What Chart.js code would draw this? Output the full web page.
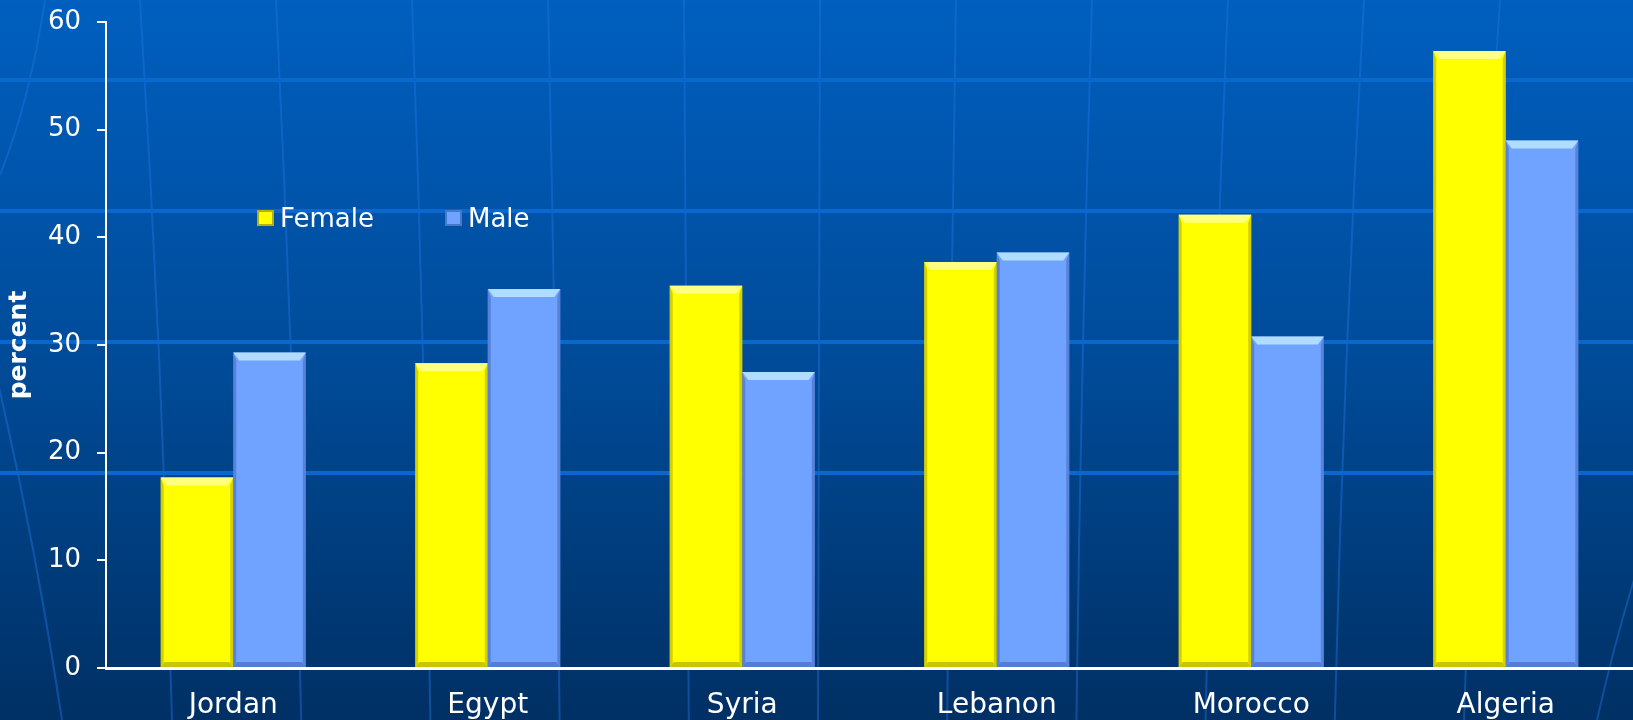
<!DOCTYPE html>
<html>
<head>
<meta charset="utf-8">
<script src="https://cdn.jsdelivr.net/npm/chart.js@4/dist/chart.umd.min.js"></script>
<style>
  html, body { margin: 0; padding: 0; background: #00408a; overflow: hidden; }
  #wrap { position: relative; width: 1633px; height: 720px; }
  #legend { position: absolute; left: 257px; top: 204px; font-family: "DejaVu Sans", Verdana, sans-serif; font-size: 26px; color: #ffffff; }
  .item { position: absolute; top: 0; white-space: nowrap; line-height: 28px; }
  .sw { display: inline-block; width: 17px; height: 16px; vertical-align: middle; margin-right: 6px; position: relative; top: -2px; box-sizing: border-box; }
</style>
</head>
<body>
<div id="wrap">
  <canvas id="c" width="1633" height="720"></canvas>
  <div id="legend"></div>
</div>
<script>
const categories = ['Jordan', 'Egypt', 'Syria', 'Lebanon', 'Morocco', 'Algeria'];
const femaleValues = [17.7, 28.3, 35.5, 37.7, 42.1, 57.3];
const maleValues = [29.3, 35.2, 27.5, 38.6, 30.8, 49.0];
const seriesNames = ['Female', 'Male'];
const yMin = 0, yMax = 60, yStep = 10;
const axisTitle = 'percent';

const YELLOW = '#ffff00';
const BLUE = '#6fa3ff';

const bgPlugin = {
  id: 'bg',
  beforeDraw(chart) {
    const ctx = chart.ctx, W = chart.width, H = chart.height;
    ctx.save();
    const g = ctx.createLinearGradient(0, 0, 0, H);
    g.addColorStop(0, '#005fbf');
    g.addColorStop(0.5, '#004b99');
    g.addColorStop(1, '#003064');
    ctx.fillStyle = g;
    ctx.fillRect(0, 0, W, H);
    ctx.strokeStyle = 'rgba(30,115,225,0.45)';
    ctx.lineWidth = 2;
    const cx = 780;
    for (let xt = 140; xt <= 1500; xt += 136) {
      const xb = xt + (cx - xt) * 0.05;
      const xm = (xt + xb) / 2 + (cx - xt) * 0.01;
      ctx.beginPath(); ctx.moveTo(xt, 0);
      ctx.quadraticCurveTo(xm, 360, xb, H); ctx.stroke();
    }
    const extra = [
      [[45,0],[30,100],[0,175]],
      [[-5,370],[35,540],[62,720]],
      [[1640,560],[1615,640],[1597,720]]
    ];
    extra.forEach(c => {
      ctx.beginPath(); ctx.moveTo(c[0][0], c[0][1]);
      ctx.quadraticCurveTo(c[1][0], c[1][1], c[2][0], c[2][1]);
      ctx.stroke();
    });
    ctx.strokeStyle = '#0868d0';
    ctx.lineWidth = 4;
    [80, 211, 342, 473].forEach(y => {
      ctx.beginPath(); ctx.moveTo(0, y); ctx.lineTo(W, y); ctx.stroke();
    });
    ctx.restore();
  }
};

const bevelPlugin = {
  id: 'bevel',
  afterDatasetsDraw(chart) {
    const ctx = chart.ctx;
    chart.data.datasets.forEach((ds, di) => {
      const meta = chart.getDatasetMeta(di);
      const isY = di === 0;
      meta.data.forEach(bar => {
        const p = bar.getProps(['x', 'y', 'base', 'width'], true);
        const l = p.x - p.width / 2, r = p.x + p.width / 2, t = p.y, b = p.base;
        ctx.save();
        ctx.fillStyle = isY ? '#ffff80' : '#b0dcff';
        ctx.beginPath();
        ctx.moveTo(l, t); ctx.lineTo(r, t); ctx.lineTo(r - 6, t + 8); ctx.lineTo(l + 6, t + 8); ctx.closePath();
        ctx.fill();
        ctx.fillStyle = isY ? 'rgba(170,160,0,0.5)' : 'rgba(60,90,170,0.45)';
        ctx.beginPath();
        ctx.moveTo(l, t); ctx.lineTo(l + 3, t + 8); ctx.lineTo(l + 3, b - 4); ctx.lineTo(l, b); ctx.closePath(); ctx.fill();
        ctx.beginPath();
        ctx.moveTo(r, t); ctx.lineTo(r - 3, t + 8); ctx.lineTo(r - 3, b - 4); ctx.lineTo(r, b); ctx.closePath(); ctx.fill();
        ctx.fillStyle = isY ? 'rgba(150,140,0,0.5)' : 'rgba(50,80,160,0.45)';
        ctx.beginPath();
        ctx.moveTo(l, b); ctx.lineTo(r, b); ctx.lineTo(r - 4, b - 5); ctx.lineTo(l + 4, b - 5); ctx.closePath(); ctx.fill();
        ctx.restore();
      });
    });
  }
};

const chart = new Chart(document.getElementById('c'), {
  type: 'bar',
  data: {
    labels: categories,
    datasets: [
      { label: seriesNames[0], data: femaleValues, backgroundColor: YELLOW, borderWidth: 0 },
      { label: seriesNames[1], data: maleValues, backgroundColor: BLUE, borderWidth: 0 }
    ]
  },
  options: {
    responsive: false,
    animation: false,
    devicePixelRatio: 1,
    layout: { padding: { top: 22, right: 0, bottom: 0, left: 0 } },
    datasets: { bar: { categoryPercentage: 0.57, barPercentage: 1.0 } },
    plugins: { legend: { display: false }, tooltip: { enabled: false } },
    scales: {
      x: {
        grid: { display: false },
        border: { display: true, color: '#ffffff', width: 3 },
        ticks: { color: '#ffffff', font: { family: 'DejaVu Sans', size: 28 }, padding: 13, maxRotation: 0 },
        afterFit(s) { s.height = 52; }
      },
      y: {
        min: yMin, max: yMax,
        grid: { drawOnChartArea: false, drawTicks: true, tickLength: 9, color: '#ffffff', lineWidth: 2 },
        border: { display: true, color: '#ffffff', width: 2 },
        ticks: { stepSize: yStep, color: '#ffffff', font: { family: 'DejaVu Sans', size: 26 }, padding: 16 },
        title: { display: true, text: axisTitle, color: '#ffffff', font: { family: 'DejaVu Sans', size: 25, weight: 'bold' }, padding: { top: 4, bottom: 0 } },
        afterFit(s) { s.width = 106; s.paddingTop = 0; s.paddingBottom = 0; }
      }
    }
  },
  plugins: [bgPlugin, bevelPlugin]
});

const legend = document.getElementById('legend');
const legendX = [0, 188];
const legendColors = [YELLOW, BLUE];
const legendBorders = ['#b8b000', '#4a78c8'];
seriesNames.forEach((name, i) => {
  const d = document.createElement('div');
  d.className = 'item';
  d.style.left = legendX[i] + 'px';
  const sw = document.createElement('span');
  sw.className = 'sw';
  sw.style.background = legendColors[i];
  sw.style.border = '2px solid ' + legendBorders[i];
  d.appendChild(sw);
  d.appendChild(document.createTextNode(name));
  legend.appendChild(d);
});
</script>
</body>
</html>
